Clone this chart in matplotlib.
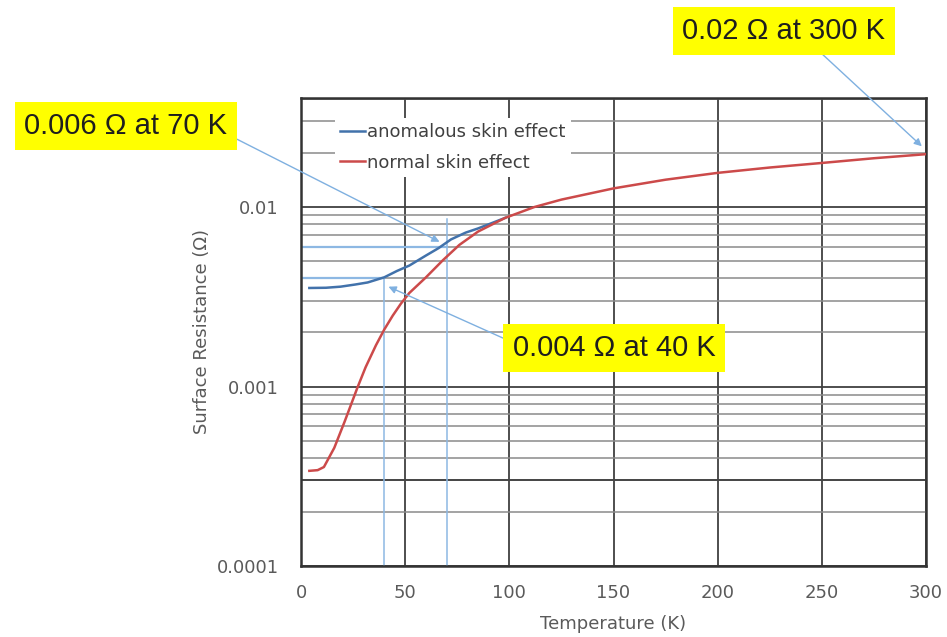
import matplotlib
matplotlib.use("Agg")
import matplotlib.pyplot as plt
import numpy as np

# Data
temp_normal = [4, 8, 11, 16, 21, 27, 31, 36, 40, 44, 48, 52, 60, 68, 76, 85, 98, 112, 125, 150, 175, 200,
               225, 250, 275, 300]
rs_normal = [0.000339, 0.000342, 0.000356, 0.000456, 0.00064, 0.00098, 0.00128, 0.0017, 0.00208, 0.00248,
             0.0029, 0.00332, 0.00406, 0.00504, 0.00615, 0.0073, 0.0087, 0.0100, 0.0110, 0.0127, 0.0142,
             0.0155, 0.0166, 0.0176, 0.0187, 0.0197]
temp_anom = [4, 12, 19, 26, 32, 40, 46, 52, 60, 66, 72, 79, 85, 98]
rs_anom = [0.00354, 0.00355, 0.0036, 0.0037, 0.0038, 0.00406, 0.0044, 0.00472, 0.00537, 0.0059, 0.0066,
           0.0072, 0.0076, 0.0087]

x_ticks = [0, 50, 100, 150, 200, 250, 300]
y_ticks = [0.0001, 0.001, 0.01]
y_tick_labels = ["0.0001", "0.001", "0.01"]

ann_texts = ["0.006 \u03a9 at 70 K", "0.02 \u03a9 at 300 K", "0.004 \u03a9 at 40 K"]
ann_points = [(66.5, 0.0064), (298, 0.0218), (42, 0.0036)]
guide_vlines = [(40, 0.004), (70, 0.0086)]
guide_hlines = [(0.004, 40), (0.006, 70)]

W, H = 947, 637
fig = plt.figure(figsize=(W / 100, H / 100), dpi=100)
ax_l, ax_r, ax_b, ax_t = 301, 926, 566, 98
ax = fig.add_axes([ax_l / W, 1 - ax_b / H, (ax_r - ax_l) / W, (ax_b - ax_t) / H])
ax.set_yscale("log")
ax.set_xlim(0, 300)
ax.set_ylim(0.0001, 0.0405)

# grid
ax.set_xticks(x_ticks)
ax.set_yticks(y_ticks)
ax.set_yticklabels(y_tick_labels)
ax.yaxis.set_minor_locator(matplotlib.ticker.LogLocator(base=10, subs=np.arange(2, 10)))
ax.yaxis.set_minor_formatter(matplotlib.ticker.NullFormatter())
ax.grid(True, which="major", axis="both", color="#404040", lw=1.3)
ax.grid(True, which="minor", axis="y", color="#8a8a8a", lw=1.1)
ax.axhline(0.0003, color="#404040", lw=1.3, zorder=0.6)
ax.set_axisbelow(True)
ax.tick_params(which="both", length=0, colors="#5a5a5a", labelsize=13)
ax.tick_params(axis="x", pad=13)
ax.tick_params(axis="y", pad=16)
for s in ax.spines.values():
    s.set_color("#333333")
    s.set_linewidth(1.8)

# guide lines
for gx, gy in guide_vlines:
    ax.plot([gx, gx], [0.0001, gy], color="#8db8e3", lw=1.1, zorder=2)
for gy, gx in guide_hlines:
    ax.plot([0, gx], [gy, gy], color="#8db8e3", lw=1.6, zorder=2)

ax.plot(temp_anom, rs_anom, color="#4272ab", lw=1.8, label="anomalous skin effect", zorder=3,
        solid_joinstyle="round")
ax.plot(temp_normal, rs_normal, color="#cc4a4a", lw=1.8, label="normal skin effect", zorder=3,
        solid_joinstyle="round")

leg = ax.legend(loc="upper left", bbox_to_anchor=(0.054, 0.958), borderaxespad=0, frameon=True,
                fontsize=13, handlelength=1.4, handletextpad=0.1, labelspacing=0.7, borderpad=0.3)
leg.get_frame().set_edgecolor("none")
leg.get_frame().set_facecolor("white")
leg.get_frame().set_alpha(1)
leg.get_frame().set_boxstyle("square", pad=0)
for t in leg.get_texts():
    t.set_color("#404040")

ax.set_xlabel("Temperature (K)", color="#5a5a5a", fontsize=13, labelpad=9)
ax.set_ylabel("Surface Resistance (\u03a9)", color="#5a5a5a", fontsize=13, labelpad=4)

# annotations (text box centres in figure pixels from top-left)
text_pos = [(126, 126), (784, 31), (614, 348)]
relpos = [(1.0, 0.2), (0.64, 0.0), (0.0, 0.7)]
for txt, pt, tp, rp in zip(ann_texts, ann_points, text_pos, relpos):
    ax.annotate(txt, xy=pt, xycoords="data", xytext=(tp[0], H - tp[1]), textcoords="figure pixels",
                ha="center", va="center", fontsize=21, family="Liberation Sans", color="#1e1e1e",
                bbox=dict(boxstyle="square,pad=0.33", fc="#ffff00", ec="none"),
                arrowprops=dict(arrowstyle="-|>", color="#7fb0e0", lw=1.0, relpos=rp,
                                shrinkA=0, shrinkB=0, mutation_scale=11),
                annotation_clip=False, zorder=5)

fig.savefig("out.png", dpi=100)
